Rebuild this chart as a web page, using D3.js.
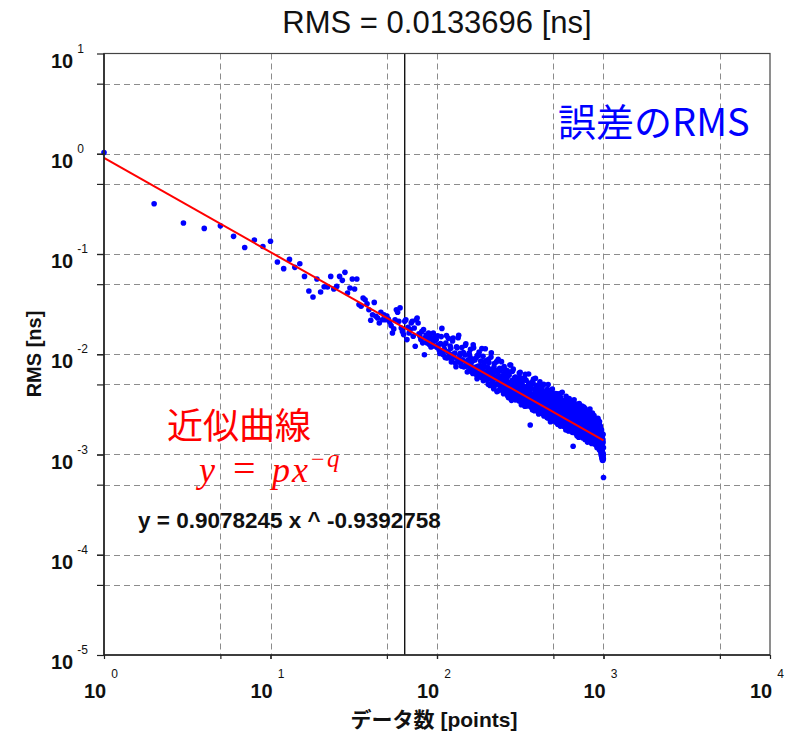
<!DOCTYPE html>
<html>
<head>
<meta charset="utf-8">
<script src="https://cdn.jsdelivr.net/npm/d3@7"></script>
<style>
    body { margin: 0; background: #fff; }
    text { font-family: "Liberation Sans", Arial, "Noto Sans CJK JP", sans-serif; }
</style>
</head>
<body>
<div id="chart"></div>
<script>
(function()
{
    var titleText = "RMS = 0.0133696 [ns]";
    var xLabel = "データ数 [points]";
    var yLabel = "RMS [ns]";
    var xDecades = [0, 1, 2, 3, 4];
    var yDecades = [-5, -4, -3, -2, -1, 0, 1];

    // fitted curve y = p x^-q, drawn over the measured range
    var fitP = 0.9078245;
    var fitQ = 0.9392758;
    var fitRange = [1, 1000];
    var markerN = 64;

    // RMS [ns] for n = 1..100
    var rmsFirst = [
        1.03, 0.317, 0.204, 0.180, 0.191, 0.150, 0.116, 0.138, 0.119, 0.134,
        0.0832, 0.0714, 0.0883, 0.0736, 0.0800, 0.0598, 0.0428, 0.0373, 0.0563, 0.0418,
        0.0472, 0.0469, 0.0598, 0.0448, 0.0475, 0.0598, 0.0546, 0.0656, 0.0408, 0.0458,
        0.0563, 0.0448, 0.0563, 0.0313, 0.0301, 0.0364, 0.0350, 0.0319, 0.0278, 0.0218,
        0.0248, 0.0329, 0.0239, 0.0230, 0.0205, 0.0262, 0.0221, 0.0248, 0.0221, 0.0240,
        0.0225, 0.0210, 0.0193, 0.0163, 0.0179, 0.0221, 0.0278, 0.0262, 0.0213, 0.0290,
        0.0183, 0.0169, 0.0157, 0.0213, 0.0221, 0.0140, 0.0186, 0.0163, 0.0176, 0.0205,
        0.0213, 0.0151, 0.0183, 0.0120, 0.0221, 0.0230, 0.0205, 0.0160, 0.0151, 0.0140,
        0.0168, 0.0130, 0.0176, 0.0099, 0.0145, 0.0155, 0.0130, 0.0138, 0.0163, 0.0125,
        0.0151, 0.0118, 0.0142, 0.0128, 0.0163, 0.0121, 0.0136, 0.0151, 0.0140, 0.0117
    ];

    // RMS [ns] for n = 101..299 (odd n)
    var rmsMidOdd = [
        0.0153, 0.0110, 0.0128, 0.0181, 0.0099, 0.0112, 0.0129, 0.0092, 0.0144, 0.0101,
        0.01147, 0.00894, 0.01452, 0.01010, 0.00817, 0.01185, 0.00895, 0.01548, 0.00977, 0.00815,
        0.01168, 0.00862, 0.00749, 0.00982, 0.01273, 0.00762, 0.00865, 0.00680, 0.00978, 0.01119,
        0.00741, 0.00853, 0.01240, 0.00664, 0.00876, 0.00744, 0.00621, 0.00974, 0.00762, 0.01050,
        0.00629, 0.00853, 0.00704, 0.00583, 0.00953, 0.00741, 0.00618, 0.01136, 0.00645, 0.00557,
        0.00744, 0.00503, 0.00828, 0.00645, 0.00568, 0.00937, 0.00506, 0.00682, 0.00578, 0.00453,
        0.00807, 0.00592, 0.00503, 0.00688, 0.00424, 0.00606, 0.00893, 0.00499, 0.00544, 0.00686,
        0.00441, 0.00599, 0.00713, 0.00492, 0.00549, 0.00404, 0.00752, 0.00591, 0.00449, 0.00621,
        0.00535, 0.00419, 0.00685, 0.00475, 0.00368, 0.00619, 0.00493, 0.00425, 0.00780, 0.00529,
        0.00385, 0.00549, 0.00443, 0.00710, 0.00397, 0.00491, 0.00584, 0.00351, 0.00447, 0.00548
    ];

    // RMS [ns] for n = 102..300 (even n)
    var rmsMidEven = [
        0.0124, 0.0102, 0.0150, 0.0106, 0.0123, 0.0093, 0.0154, 0.0106, 0.0094, 0.0121,
        0.00837, 0.01355, 0.00939, 0.01029, 0.00751, 0.01158, 0.01461, 0.00837, 0.01021, 0.00762,
        0.00882, 0.01041, 0.00758, 0.01231, 0.00788, 0.00665, 0.00881, 0.01028, 0.00696, 0.00803,
        0.00902, 0.00642, 0.01158, 0.00723, 0.00672, 0.00924, 0.00571, 0.00748, 0.00979, 0.00650,
        0.00766, 0.00589, 0.01139, 0.00663, 0.00545, 0.00806, 0.00612, 0.00861, 0.00569, 0.00676,
        0.00577, 0.00890, 0.00627, 0.00488, 0.00706, 0.01032, 0.00517, 0.00641, 0.00561, 0.00745,
        0.00488, 0.00677, 0.00570, 0.00844, 0.00501, 0.00431, 0.00617, 0.00532, 0.00725, 0.00470,
        0.00567, 0.00844, 0.00486, 0.00595, 0.00427, 0.00641, 0.00501, 0.00437, 0.00700, 0.00513,
        0.00447, 0.00583, 0.00383, 0.00632, 0.00458, 0.00516, 0.00781, 0.00397, 0.00477, 0.00347,
        0.00516, 0.00675, 0.00416, 0.00360, 0.00556, 0.00447, 0.00388, 0.00593, 0.00469, 0.00407
    ];

    // RMS [ns] for n = 301, 304, ..., 997
    var rmsTailA = [
        0.00441, 0.00375, 0.00551, 0.00343, 0.00473, 0.00661, 0.00396, 0.00506, 0.00359, 0.00428,
        0.00479, 0.00355, 0.00303, 0.00419, 0.00550, 0.00374, 0.00333, 0.00445, 0.00636, 0.00348,
        0.00360, 0.00471, 0.00298, 0.00398, 0.00332, 0.00536, 0.00311, 0.00377, 0.00273, 0.00436,
        0.00459, 0.00320, 0.00281, 0.00391, 0.00342, 0.00265, 0.00430, 0.00304, 0.00530, 0.00359,
        0.00275, 0.00356, 0.00453, 0.00257, 0.00308, 0.00390, 0.00242, 0.00341, 0.00293, 0.00423,
        0.00303, 0.00249, 0.00351, 0.00447, 0.00263, 0.00325, 0.00235, 0.00385, 0.00286, 0.00340,
        0.00230, 0.00347, 0.00275, 0.00246, 0.00449, 0.00294, 0.00216, 0.00326, 0.00254, 0.00387,
        0.00295, 0.00227, 0.00262, 0.00350, 0.00212, 0.00318, 0.00244, 0.00403, 0.00275, 0.00219,
        0.00319, 0.00228, 0.00269, 0.00192, 0.00350, 0.00247, 0.00218, 0.00290, 0.00418, 0.00206,
        0.00239, 0.00290, 0.00203, 0.00260, 0.00226, 0.00347, 0.00189, 0.00269, 0.00214, 0.00310,
        0.00192, 0.00238, 0.00312, 0.00209, 0.00268, 0.00172, 0.00244, 0.00362, 0.00220, 0.00196,
        0.00272, 0.00193, 0.00220, 0.00250, 0.00177, 0.00308, 0.00202, 0.00231, 0.00168, 0.00266,
        0.00203, 0.00277, 0.00179, 0.00227, 0.00312, 0.00171, 0.00213, 0.00249, 0.00187, 0.00231,
        0.00160, 0.00231, 0.00199, 0.00277, 0.00174, 0.00212, 0.00149, 0.00248, 0.00323, 0.00189,
        0.00208, 0.00162, 0.00252, 0.00184, 0.00153, 0.00228, 0.00285, 0.00173, 0.00199, 0.00147,
        0.00224, 0.00182, 0.00158, 0.00210, 0.00251, 0.00169, 0.00196, 0.00146, 0.00288, 0.00185,
        0.00158, 0.00229, 0.00182, 0.00148, 0.00205, 0.00258, 0.00167, 0.00193, 0.00138, 0.00220,
        0.00181, 0.00141, 0.00204, 0.00239, 0.00154, 0.00173, 0.00284, 0.00146, 0.00191, 0.00159,
        0.00216, 0.00160, 0.00131, 0.00187, 0.00152, 0.00203, 0.00173, 0.00139, 0.00237, 0.00165,
        0.00140, 0.00177, 0.00245, 0.00152, 0.00188, 0.00130, 0.00164, 0.00205, 0.00143, 0.00172,
        0.00186, 0.00144, 0.00158, 0.00122, 0.00210, 0.00165, 0.00132, 0.00179, 0.00230, 0.00140,
        0.00156, 0.00190, 0.00126, 0.00165, 0.00142, 0.00213, 0.00121, 0.00149, 0.00178, 0.00131,
        0.00164, 0.00110, 0.00144, 0.00099, 0.00176, 0.00124, 0.00092, 0.00152, 0.00106, 0.00134,
        0.00087, 0.00158, 0.00099
    ];

    // RMS [ns] for n = 302, 305, ..., 998
    var rmsTailB = [
        0.00388, 0.00498, 0.00420, 0.00355, 0.00588, 0.00449, 0.00335, 0.00534, 0.00408, 0.00371,
        0.00426, 0.00583, 0.00344, 0.00393, 0.00314, 0.00471, 0.00408, 0.00359, 0.00516, 0.00322,
        0.00415, 0.00308, 0.00509, 0.00349, 0.00287, 0.00391, 0.00567, 0.00325, 0.00370, 0.00311,
        0.00329, 0.00413, 0.00304, 0.00491, 0.00278, 0.00378, 0.00339, 0.00258, 0.00397, 0.00313,
        0.00411, 0.00272, 0.00326, 0.00365, 0.00287, 0.00501, 0.00311, 0.00263, 0.00393, 0.00302,
        0.00263, 0.00396, 0.00297, 0.00232, 0.00359, 0.00277, 0.00433, 0.00314, 0.00252, 0.00337,
        0.00299, 0.00259, 0.00425, 0.00286, 0.00227, 0.00334, 0.00267, 0.00376, 0.00240, 0.00278,
        0.00242, 0.00338, 0.00222, 0.00277, 0.00307, 0.00232, 0.00370, 0.00260, 0.00209, 0.00290,
        0.00254, 0.00206, 0.00298, 0.00372, 0.00223, 0.00271, 0.00235, 0.00331, 0.00209, 0.00262,
        0.00294, 0.00230, 0.00207, 0.00326, 0.00246, 0.00196, 0.00274, 0.00221, 0.00381, 0.00210,
        0.00253, 0.00205, 0.00229, 0.00283, 0.00185, 0.00325, 0.00216, 0.00192, 0.00264, 0.00233,
        0.00198, 0.00258, 0.00337, 0.00187, 0.00229, 0.00210, 0.00281, 0.00181, 0.00241, 0.00193,
        0.00255, 0.00187, 0.00215, 0.00287, 0.00165, 0.00239, 0.00195, 0.00223, 0.00318, 0.00177,
        0.00201, 0.00256, 0.00178, 0.00164, 0.00225, 0.00290, 0.00191, 0.00172, 0.00216, 0.00241,
        0.00178, 0.00261, 0.00201, 0.00164, 0.00224, 0.00173, 0.00195, 0.00304, 0.00156, 0.00212,
        0.00183, 0.00162, 0.00233, 0.00196, 0.00155, 0.00221, 0.00174, 0.00265, 0.00190, 0.00150,
        0.00206, 0.00174, 0.00155, 0.00237, 0.00182, 0.00146, 0.00218, 0.00165, 0.00196, 0.00268,
        0.00154, 0.00194, 0.00173, 0.00146, 0.00216, 0.00181, 0.00156, 0.00234, 0.00168, 0.00143,
        0.00179, 0.00142, 0.00200, 0.00168, 0.00253, 0.00147, 0.00186, 0.00160, 0.00134, 0.00206,
        0.00160, 0.00215, 0.00140, 0.00183, 0.00147, 0.00167, 0.00226, 0.00135, 0.00192, 0.00155,
        0.00138, 0.00167, 0.00200, 0.00146, 0.00159, 0.00128, 0.00191, 0.00153, 0.00135, 0.00216,
        0.00168, 0.00137, 0.00175, 0.00128, 0.00199, 0.00150, 0.00161, 0.00115, 0.00187, 0.00142,
        0.00127, 0.00169, 0.00102, 0.00148, 0.00116, 0.00096, 0.00155, 0.00109, 0.00127, 0.00093,
        0.00141, 0.00102, 0.00090
    ];

    // RMS [ns] for n = 303, 306, ..., 999
    var rmsTailC = [
        0.00509, 0.00353, 0.00437, 0.00651, 0.00371, 0.00452, 0.00313, 0.00516, 0.00386, 0.00563,
        0.00338, 0.00411, 0.00632, 0.00355, 0.00458, 0.00305, 0.00373, 0.00494, 0.00328, 0.00415,
        0.00197, 0.00454, 0.00339, 0.00385, 0.00278, 0.00507, 0.00353, 0.00299, 0.00402, 0.00576,
        0.00310, 0.00374, 0.00279, 0.00450, 0.00324, 0.00254, 0.00397, 0.00495, 0.00290, 0.00332,
        0.00407, 0.00266, 0.00335, 0.00296, 0.00494, 0.00250, 0.00353, 0.00282, 0.00419, 0.00263,
        0.00303, 0.00361, 0.00232, 0.00316, 0.00498, 0.00265, 0.00244, 0.00370, 0.00283, 0.00212,
        0.00317, 0.00250, 0.00400, 0.00269, 0.00224, 0.00322, 0.00280, 0.00234, 0.00358, 0.00250,
        0.00290, 0.00406, 0.00210, 0.00262, 0.00321, 0.00227, 0.00200, 0.00296, 0.00360, 0.00241,
        0.00216, 0.00266, 0.00316, 0.00229, 0.00408, 0.00241, 0.00202, 0.00292, 0.00219, 0.00267,
        0.00322, 0.00190, 0.00243, 0.00223, 0.00348, 0.00253, 0.00202, 0.00176, 0.00284, 0.00227,
        0.00202, 0.00263, 0.00361, 0.00191, 0.00233, 0.00289, 0.00205, 0.00174, 0.00246, 0.00307,
        0.00212, 0.00181, 0.00256, 0.00226, 0.00193, 0.00323, 0.00166, 0.00231, 0.00121, 0.00263,
        0.00191, 0.00351, 0.00207, 0.00166, 0.00234, 0.00193, 0.00277, 0.00173, 0.00208, 0.00244,
        0.00154, 0.00213, 0.00286, 0.00177, 0.00196, 0.00250, 0.00162, 0.00215, 0.00181, 0.00301,
        0.00168, 0.00226, 0.00188, 0.00152, 0.00250, 0.00199, 0.00172, 0.00273, 0.00158, 0.00205,
        0.00178, 0.00229, 0.00150, 0.00297, 0.00187, 0.00161, 0.00209, 0.00141, 0.00243, 0.00175,
        0.00193, 0.00152, 0.00251, 0.00163, 0.00210, 0.00176, 0.00133, 0.00221, 0.00155, 0.00181,
        0.00260, 0.00144, 0.00190, 0.00161, 0.00222, 0.00137, 0.00175, 0.00197, 0.00147, 0.00231,
        0.00151, 0.00178, 0.00129, 0.00206, 0.00162, 0.00259, 0.00140, 0.00184, 0.00152, 0.00215,
        0.00133, 0.00163, 0.00193, 0.00142, 0.00228, 0.00153, 0.00126, 0.00174, 0.00199, 0.00144,
        0.00166, 0.00132, 0.00208, 0.00154, 0.00117, 0.00180, 0.00142, 0.00226, 0.00133, 0.00164,
        0.00123, 0.00185, 0.00143, 0.00206, 0.00111, 0.00155, 0.00171, 0.00125, 0.00192, 0.00132,
        0.00149, 0.00106, 0.00173, 0.00128, 0.00096, 0.00155, 0.00113, 0.00088, 0.00161, 0.00100,
        0.00132, 0.00092, 0.00117
    ];

    // last point n = 1000
    var rmsLast = [[1000, 0.000589]];

    var width = 789;
    var height = 734;
    var left = 104, right = 770, top = 53.5, bottom = 655;

    function series(arr, n0, step) {
        return arr.map(function(v, i){ return {n: n0 + step * i, v: v}; });
    }
    var points = []
        .concat(series(rmsFirst, 1, 1))
        .concat(series(rmsMidOdd, 101, 2))
        .concat(series(rmsMidEven, 102, 2))
        .concat(series(rmsTailA, 301, 3))
        .concat(series(rmsTailB, 302, 3))
        .concat(series(rmsTailC, 303, 3))
        .concat(rmsLast.map(function(d){ return {n: d[0], v: d[1]}; }));

    var svg = d3.select("#chart")
        .append("svg")
        .attr("width", width)
        .attr("height", height);

    var x = d3.scaleLog()
        .domain([Math.pow(10, xDecades[0]), Math.pow(10, xDecades[xDecades.length - 1])])
        .range([left, right]);
    var y = d3.scaleLog()
        .domain([Math.pow(10, yDecades[0]), Math.pow(10, yDecades[yDecades.length - 1])])
        .range([bottom, top]);

    // grid at 1x and 5x each decade
    var xGrid = [], yGrid = [];
    xDecades.forEach(function(k, i){
        if (i > 0 && i < xDecades.length - 1) xGrid.push(Math.pow(10, k));
        if (i < xDecades.length - 1) xGrid.push(5 * Math.pow(10, k));
    });
    yDecades.forEach(function(k, i){
        if (i > 0 && i < yDecades.length - 1) yGrid.push(Math.pow(10, k));
        if (i < yDecades.length - 1) yGrid.push(5 * Math.pow(10, k));
    });

    var grid = svg.append("g")
        .attr("stroke", "#8c8c8c")
        .attr("stroke-width", 1)
        .attr("stroke-dasharray", "6,4");
    grid.selectAll(".gx").data(xGrid)
        .enter().append("line")
        .attr("class", "gx")
        .attr("x1", function(d){ return Math.round(x(d)) + 0.5; })
        .attr("x2", function(d){ return Math.round(x(d)) + 0.5; })
        .attr("y1", top)
        .attr("y2", bottom);
    grid.selectAll(".gy").data(yGrid)
        .enter().append("line")
        .attr("class", "gy")
        .attr("y1", function(d){ return Math.round(y(d)) + 0.5; })
        .attr("y2", function(d){ return Math.round(y(d)) + 0.5; })
        .attr("x1", left)
        .attr("x2", right);

    // marker line
    svg.append("line")
        .attr("x1", x(markerN)).attr("x2", x(markerN))
        .attr("y1", top).attr("y2", bottom)
        .attr("stroke", "#000")
        .attr("stroke-width", 1.3);

    // data points
    svg.selectAll(".pt").data(points)
        .enter().append("circle")
        .attr("class", "pt")
        .attr("r", 2.8)
        .attr("cx", function(d){ return x(d.n); })
        .attr("cy", function(d){ return y(d.v); })
        .attr("fill", "#0000ff");

    // fitted curve
    var fitLine = d3.line()
        .x(function(d){ return x(d); })
        .y(function(d){ return y(fitP * Math.pow(d, -fitQ)); });
    svg.append("path")
        .datum(fitRange)
        .attr("d", fitLine)
        .attr("fill", "none")
        .attr("stroke", "#ff0000")
        .attr("stroke-width", 2);

    // frame
    svg.append("rect")
        .attr("x", left).attr("y", top)
        .attr("width", right - left).attr("height", bottom - top)
        .attr("fill", "none")
        .attr("stroke", "#444")
        .attr("stroke-width", 1.2);
    svg.append("line")
        .attr("x1", left).attr("x2", left).attr("y1", top).attr("y2", bottom)
        .attr("stroke", "#222").attr("stroke-width", 1.6);
    svg.append("line")
        .attr("x1", left).attr("x2", right).attr("y1", bottom).attr("y2", bottom)
        .attr("stroke", "#222").attr("stroke-width", 1.6);

    //axes: tick marks only, labels are drawn as 10 + superscript
    var xTicks = xGrid.concat(xDecades.map(function(k){ return Math.pow(10, k); }));
    var yTicks = yGrid.concat(yDecades.map(function(k){ return Math.pow(10, k); }));
    var xAxis = svg.append("g").attr("transform", "translate(0," + bottom + ")")
        .call(d3.axisBottom(x).tickValues(xTicks).tickSize(4).tickFormat(""));
    var yAxis = svg.append("g").attr("transform", "translate(" + left + ",0)")
        .call(d3.axisLeft(y).tickValues(yTicks).tickSize(7).tickFormat(""));
    xAxis.select(".domain").remove();
    yAxis.select(".domain").remove();
    svg.selectAll(".tick line").attr("stroke", "#222").attr("stroke-width", 1.2);

    var xl = svg.selectAll(".xl").data(xDecades)
        .enter().append("text")
        .attr("class", "xl")
        .attr("x", function(d){ return x(Math.pow(10, d)) - 20; })
        .attr("y", 698)
        .attr("font-size", 20)
        .attr("font-weight", "bold")
        .attr("fill", "#111");
    xl.append("tspan").text("10");
    xl.append("tspan").attr("dx", 5).attr("dy", -20).attr("font-size", 12)
        .attr("font-weight", "normal")
        .text(function(d){ return d; });

    var yl = svg.selectAll(".yl").data(yDecades)
        .enter().append("text")
        .attr("class", "yl")
        .attr("x", 51)
        .attr("y", function(d){ return y(Math.pow(10, d)) + 14; })
        .attr("font-size", 20)
        .attr("font-weight", "bold")
        .attr("fill", "#111");
    yl.append("tspan").text("10");
    yl.append("tspan").attr("dx", 4).attr("dy", -15).attr("font-size", 12)
        .attr("font-weight", "normal")
        .text(function(d){ return d; });

    // titles
    svg.append("text")
        .attr("x", 437).attr("y", 33)
        .attr("text-anchor", "middle")
        .attr("font-size", 31)
        .attr("fill", "#111")
        .text(titleText);
    svg.append("text")
        .attr("x", 434).attr("y", 727)
        .attr("text-anchor", "middle")
        .attr("font-size", 21)
        .attr("font-weight", "bold")
        .attr("fill", "#111")
        .text(xLabel);
    svg.append("text")
        .attr("transform", "translate(41,354) rotate(-90)")
        .attr("text-anchor", "middle")
        .attr("font-size", 20)
        .attr("font-weight", "bold")
        .attr("fill", "#111")
        .text(yLabel);

    // annotations
    svg.append("text")
        .attr("x", 558).attr("y", 136)
        .attr("font-size", 38)
        .attr("fill", "#0000ff")
        .style("font-family", "'Noto Sans CJK JP', sans-serif")
        .text("誤差のRMS");
    svg.append("text")
        .attr("x", 167).attr("y", 439)
        .attr("font-size", 36)
        .attr("fill", "#ff0000")
        .style("font-family", "'Noto Sans CJK JP', sans-serif")
        .text("近似曲線");
    var eq = svg.append("text")
        .attr("y", 482)
        .attr("font-size", 36)
        .attr("fill", "#ff0000")
        .style("font-family", "'Liberation Serif', 'DejaVu Serif', serif");
    eq.append("tspan").attr("x", 199).attr("font-style", "italic").text("y");
    eq.append("tspan").attr("x", 233).attr("font-size", 40).text("=");
    eq.append("tspan").attr("x", 272).attr("font-style", "italic").text("p");
    eq.append("tspan").attr("x", 292).attr("font-style", "italic").text("x");
    eq.append("tspan").attr("x", 311).attr("dy", -15).attr("font-size", 24).text("\u2212");
    eq.append("tspan").attr("x", 327).attr("font-style", "italic").attr("font-size", 25).text("q");

    svg.append("text")
        .attr("x", 138).attr("y", 528)
        .attr("font-size", 22.5)
        .attr("font-weight", "bold")
        .attr("fill", "#111")
        .text("y = " + fitP + " x ^ -" + fitQ);

})();
</script>
</body>
</html>
